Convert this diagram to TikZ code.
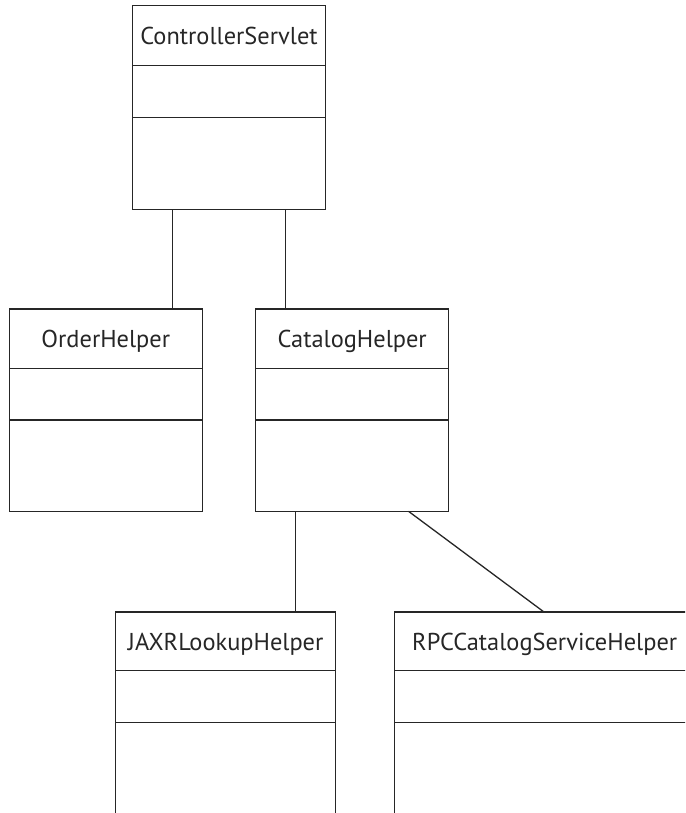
\documentclass[tikz,border=0pt]{standalone}
\usepackage{fontspec}
\setmainfont{PT Sans}
\usetikzlibrary{calc}
\definecolor{ink}{HTML}{262626}
\tikzset{
  cbox/.style={draw=ink, line width=1.3pt, inner sep=0pt, outer sep=0pt, anchor=north west, fill=none},
  ctext/.style={inner sep=0pt, text=ink, font=\fontsize{24.4}{28}\selectfont, text height=17pt, text depth=0pt, anchor=center},
  link/.style={draw=ink, line width=1.3pt},
  divider/.style={draw=ink, line width=1.3pt}
}
\begin{document}
\begin{tikzpicture}[x=1pt,y=-1pt]
\useasboundingbox (0,0) rectangle (685,813);
\clip (0,0) rectangle (685,813);
% boxes
\node[cbox, minimum width=192.6pt, minimum height=204pt] (cs) at (132.7,5.3) {};
\node[cbox, minimum width=193pt, minimum height=202.3pt] (oh) at (9.3,309) {};
\node[cbox, minimum width=193pt, minimum height=202.3pt] (ch) at (255.7,309) {};
\node[cbox, minimum width=220pt, minimum height=204pt] (jx) at (115.7,612) {};
\node[cbox, minimum width=300pt, minimum height=204pt] (rpc) at (394.7,612) {};
% titles
\node[ctext] (cst) at ($(cs.north)+(0,30.3)$) {ControllerServlet};
\node[ctext] (oht) at ($(oh.north)+(0,30)$) {OrderHelper};
\node[ctext] (cht) at ($(ch.north)+(0,30)$) {CatalogHelper};
\node[ctext] (jxt) at ($(jx.north)+(0,29.5)$) {JAXRLookupHelper};
\node[ctext] (rpct) at ($(rpc.north)+(0,29.5)$) {RPCCatalogServiceHelper};
% dividers
\foreach \b/\a/\c in {cs/60.4/112, oh/59.7/111, ch/59.7/111, jx/58.7/110.7, rpc/58.7/110.7}{
  \draw[divider] ([yshift=-\a pt]\b.north west) -- ([yshift=-\a pt]\b.north east);
  \draw[divider] ([yshift=-\c pt]\b.north west) -- ([yshift=-\c pt]\b.north east);
}
% connectors
\coordinate (csa) at ([xshift=40pt]cs.south west);
\coordinate (csb) at ([xshift=152.6pt]cs.south west);
\coordinate (cha) at ([xshift=40pt]ch.south west);
\coordinate (chb) at ([xshift=152.8pt]ch.south west);
\draw[link] (csa) -- (csa |- oh.north);
\draw[link] (csb) -- (csb |- ch.north);
\draw[link] (cha) -- (cha |- jx.north);
\draw[link] (chb) -- ([xshift=149.3pt]rpc.north west);
\end{tikzpicture}
\end{document}
